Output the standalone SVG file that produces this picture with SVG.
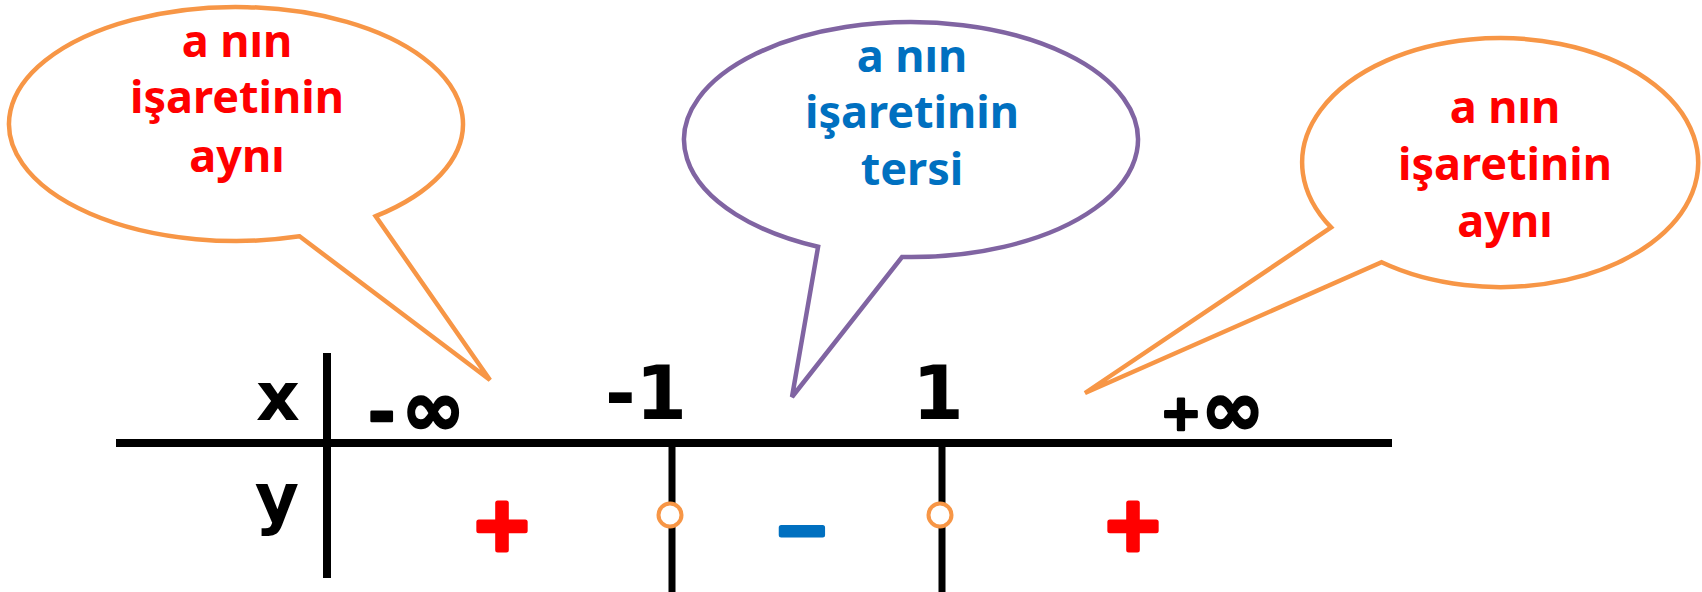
<svg xmlns="http://www.w3.org/2000/svg" width="1702" height="592" viewBox="0 0 1702 592">
<style>
.bub{fill:#fff;stroke-width:4.5;stroke-linejoin:miter}
.or{stroke:#F79646}
.pu{stroke:#8064A2}
.bt{font-family:"Noto Sans","DejaVu Sans",sans-serif;font-weight:bold;font-size:45px;text-anchor:middle}
.red{fill:#FF0000}
.blue{fill:#0070C0}
.lbl{font-family:"DejaVu Sans","Liberation Sans",sans-serif;font-weight:bold;fill:#000}
.thick{stroke:#000;stroke-width:2.5;stroke-linejoin:round}
.ln{stroke:#000;fill:none}
.hole{fill:#fff;stroke:#F79646;stroke-width:4}
.sign{font-family:"DejaVu Sans","Liberation Sans",sans-serif;font-weight:bold;text-anchor:middle;stroke-width:5;stroke-linejoin:round}
</style>
<rect width="1702" height="592" fill="#fff"/>

<g id="table-lines">
  <line class="ln" x1="116" y1="443" x2="1392" y2="443" stroke-width="8"/>
  <line class="ln" x1="327" y1="353" x2="327" y2="578" stroke-width="8"/>
  <line class="ln" x1="672" y1="443" x2="672" y2="592" stroke-width="7"/>
  <line class="ln" x1="942" y1="443" x2="942" y2="592" stroke-width="7"/>
</g>

<g id="row-x">
  <text class="lbl" x="278" y="420" font-size="68" text-anchor="middle">x</text>
  <text class="lbl thick" x="368" y="435" font-size="66" letter-spacing="1">-<tspan dx="5" font-size="76">∞</tspan></text>
  <text class="lbl" x="646" y="419" font-size="74" text-anchor="middle">-1</text>
  <text class="lbl" x="938" y="419" font-size="74" text-anchor="middle">1</text>
  <text class="lbl thick" x="1160" y="430" font-size="50">+<tspan y="435" dx="-1" font-size="76">∞</tspan></text>
</g>

<g id="row-y">
  <text class="lbl" x="277" y="521" font-size="68" text-anchor="middle">y</text>
  <text class="sign red" stroke="#FF0000" font-size="74" x="502" y="550">+</text>
  <circle class="hole" cx="670" cy="515" r="11.5"/>
  <text class="sign blue" stroke="#0070C0" font-size="66" x="802" y="552">−</text>
  <circle class="hole" cx="940" cy="515" r="11.5"/>
  <text class="sign red" stroke="#FF0000" font-size="74" x="1133" y="550">+</text>
</g>

<g id="bubble-left">
  <path class="bub or" d="M 299.6 236.3 A 227 117 0 1 1 375.7 216.2 L 490 380 Z"/>
  <text class="bt red" x="237" y="57">a nın</text>
  <text class="bt red" x="237" y="113">işaretinin</text>
  <text class="bt red" x="237" y="172">aynı</text>
</g>

<g id="bubble-mid">
  <path class="bub pu" d="M 818.1 246.8 A 227 117.5 0 1 1 902 257 L 792 397 Z"/>
  <text class="bt blue" x="912" y="72">a nın</text>
  <text class="bt blue" x="912" y="128">işaretinin</text>
  <text class="bt blue" x="912" y="185">tersi</text>
</g>

<g id="bubble-right">
  <path class="bub or" d="M 1381.6 262.3 A 198 124.5 0 1 0 1331.1 227.4 L 1085 393 Z"/>
  <text class="bt red" x="1505" y="123">a nın</text>
  <text class="bt red" x="1505" y="180">işaretinin</text>
  <text class="bt red" x="1505" y="237">aynı</text>
</g>
</svg>
